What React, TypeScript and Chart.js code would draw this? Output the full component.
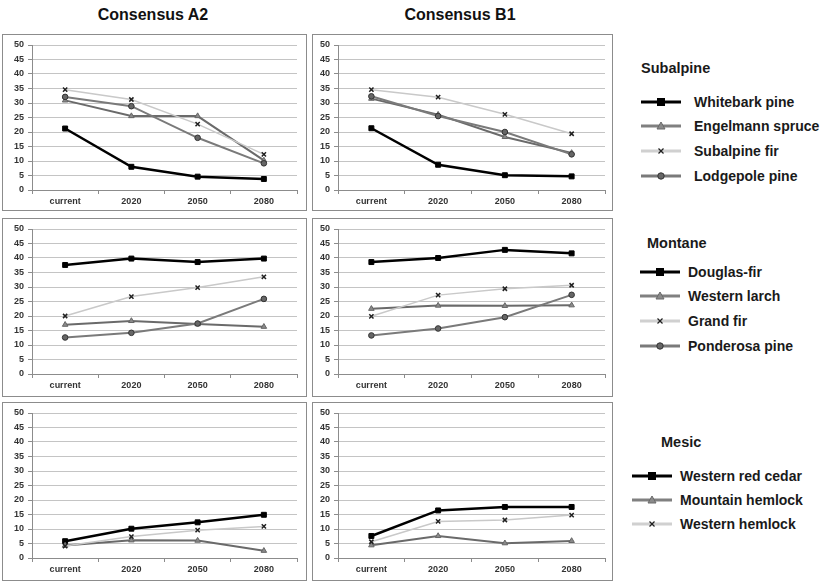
import React, { useEffect, useRef } from 'react';
import { Chart, registerables } from 'chart.js';
Chart.register(...registerables);

const categories = ['current', '2020', '2050', '2080'];
const yMin = 0;
const yMax = 50;
const yStep = 5;

const subalpineSpecies = ['Whitebark pine', 'Engelmann spruce', 'Subalpine fir', 'Lodgepole pine'];
const montaneSpecies = ['Douglas-fir', 'Western larch', 'Grand fir', 'Ponderosa pine'];
const mesicSpecies = ['Western red cedar', 'Mountain hemlock', 'Western hemlock'];

const whitebarkA2 = [21.2, 8.0, 4.6, 3.8];
const engelmannA2 = [30.9, 25.5, 25.5, 10.2];
const subalpineFirA2 = [34.6, 31.2, 22.7, 12.3];
const lodgepoleA2 = [32.1, 28.9, 18.0, 9.2];
const whitebarkB1 = [21.3, 8.7, 5.1, 4.7];
const engelmannB1 = [31.5, 26.0, 18.3, 12.8];
const subalpineFirB1 = [34.6, 32.0, 26.1, 19.4];
const lodgepoleB1 = [32.3, 25.5, 20.0, 12.3];

const douglasFirA2 = [37.6, 39.8, 38.6, 39.8];
const westernLarchA2 = [17.0, 18.3, 17.2, 16.3];
const grandFirA2 = [20.0, 26.7, 29.8, 33.5];
const ponderosaA2 = [12.6, 14.2, 17.4, 25.9];
const douglasFirB1 = [38.6, 40.0, 42.8, 41.6];
const westernLarchB1 = [22.5, 23.6, 23.5, 23.7];
const grandFirB1 = [19.9, 27.2, 29.4, 30.6];
const ponderosaB1 = [13.3, 15.7, 19.6, 27.3];

const redCedarA2 = [5.8, 10.1, 12.3, 14.9];
const mtnHemlockA2 = [4.3, 6.1, 6.0, 2.5];
const wHemlockA2 = [4.1, 7.4, 9.6, 10.9];
const redCedarB1 = [7.6, 16.4, 17.6, 17.6];
const mtnHemlockB1 = [4.4, 7.6, 5.1, 5.9];
const wHemlockB1 = [5.6, 12.6, 13.1, 14.8];

type Style = {
  line: string;
  width: number;
  point: any;
  radius: number;
  pFill: string;
  pBorder: string;
  pBorderWidth: number;
};

const styles: Style[] = [
  { line: '#000000', width: 2.5, point: 'rect', radius: 3.5, pFill: '#000000', pBorder: '#000000', pBorderWidth: 1 },
  { line: '#6a6a6a', width: 2, point: 'triangle', radius: 3.2, pFill: '#8a8a8a', pBorder: '#666666', pBorderWidth: 1 },
  { line: '#c9c9c9', width: 1.5, point: 'crossRot', radius: 3, pFill: '#222222', pBorder: '#222222', pBorderWidth: 1.5 },
  { line: '#7a7a7a', width: 2, point: 'circle', radius: 2.8, pFill: '#666666', pBorder: '#333333', pBorderWidth: 1 },
];

const tickFont = { family: '"Liberation Sans", Arial, sans-serif', size: 9, weight: 'bold' as const };

type PanelProps = {
  left: number;
  top: number;
  width: number;
  height: number;
  yWidth: number;
  padRight: number;
  names: string[];
  series: number[][];
};

function Panel({ left, top, width, height, yWidth, padRight, names, series }: PanelProps) {
  const ref = useRef<HTMLCanvasElement>(null);
  const innerW = width - 2;
  const innerH = height - 2;
  const padTop = 10;
  const plotH = 145;
  useEffect(() => {
    if (!ref.current) return;
    const chart = new Chart(ref.current, {
      type: 'line',
      data: {
        labels: categories,
        datasets: series.map((d, i) => {
          const s = styles[i];
          return {
            label: names[i],
            data: d,
            borderColor: s.line,
            borderWidth: s.width,
            backgroundColor: s.pFill,
            pointStyle: s.point,
            pointRadius: s.radius,
            pointBackgroundColor: s.pFill,
            pointBorderColor: s.pBorder,
            pointBorderWidth: s.pBorderWidth,
            tension: 0,
            fill: false,
            order: series.length - i,
          };
        }),
      },
      options: {
        responsive: false,
        animation: false,
        layout: { padding: { top: padTop, right: padRight, left: 0, bottom: 0 } },
        plugins: { legend: { display: false }, tooltip: { enabled: false } },
        scales: {
          x: {
            type: 'category',
            offset: true,
            grid: {
              display: true,
              offset: true,
              drawOnChartArea: false,
              drawTicks: true,
              tickLength: 4,
              color: '#8c8c8c',
            },
            border: { display: true, color: '#8c8c8c' },
            ticks: { font: tickFont, color: '#333333', padding: 2, maxRotation: 0, autoSkip: false },
            afterFit: (s: any) => {
              s.height = innerH - padTop - plotH;
            },
          },
          y: {
            min: yMin,
            max: yMax,
            ticks: { stepSize: yStep, font: tickFont, color: '#333333', padding: 4 },
            grid: { color: '#c4c4c4', tickColor: '#8c8c8c', tickLength: 4, drawTicks: true },
            border: { display: true, color: '#8c8c8c' },
            afterFit: (s: any) => {
              s.width = yWidth;
            },
          },
        },
      },
    });
    return () => chart.destroy();
  }, []);
  return (
    <div
      style={{
        position: 'absolute',
        left,
        top,
        width,
        height,
        border: '1px solid #8c8c8c',
        boxSizing: 'border-box',
        background: '#ffffff',
      }}
    >
      <canvas ref={ref} width={innerW} height={innerH} style={{ display: 'block' }} />
    </div>
  );
}

function LegendMark({ idx }: { idx: number }) {
  const cx = 20;
  const cy = 5;
  let marker: any = null;
  if (idx === 0) marker = <rect x={cx - 4} y={cy - 4} width={8} height={8} fill="#000" />;
  if (idx === 1) marker = <polygon points={`${cx},${cy - 4} ${cx + 4},${cy + 3} ${cx - 4},${cy + 3}`} fill="#8a8a8a" stroke="#6a6a6a" />;
  if (idx === 2)
    marker = (
      <g stroke="#222" strokeWidth={1.3}>
        <line x1={cx - 2.5} y1={cy - 2.5} x2={cx + 2.5} y2={cy + 2.5} />
        <line x1={cx - 2.5} y1={cy + 2.5} x2={cx + 2.5} y2={cy - 2.5} />
      </g>
    );
  if (idx === 3) marker = <circle cx={cx} cy={cy} r={3.2} fill="#666" stroke="#333" strokeWidth={1} />;
  const lineColor = idx === 0 ? '#000' : idx === 1 ? '#808080' : idx === 2 ? '#d0d0d0' : '#7a7a7a';
  return (
    <svg width={40} height={10} style={{ display: 'block' }}>
      <line x1={0} y1={cy} x2={40} y2={cy} stroke={lineColor} strokeWidth={3} />
      {marker}
    </svg>
  );
}

const legendFont = '"Liberation Sans", Arial, sans-serif';

function LegendGroup({ title, titleX, titleY, lineX, textX, ys, names }: { title: string; titleX: number; titleY: number; lineX: number; textX: number; ys: number[]; names: string[] }) {
  return (
    <>
      <div style={{ position: 'absolute', left: titleX, top: titleY - 10, lineHeight: '20px', fontSize: 14.5, fontWeight: 'bold', fontFamily: legendFont, color: '#1a1a1a', whiteSpace: 'nowrap' }}>{title}</div>
      {names.map((n, i) => (
        <React.Fragment key={n}>
          <div style={{ position: 'absolute', left: lineX, top: ys[i] - 5 }}>
            <LegendMark idx={i} />
          </div>
          <div style={{ position: 'absolute', left: textX, top: ys[i] - 10, lineHeight: '20px', fontSize: 14, fontWeight: 'bold', fontFamily: legendFont, color: '#1a1a1a', whiteSpace: 'nowrap' }}>{n}</div>
        </React.Fragment>
      ))}
    </>
  );
}

export default function App() {
  const col1 = { left: 2, width: 305, yWidth: 29, padRight: 9 };
  const col2 = { left: 312, width: 301, yWidth: 25, padRight: 7 };
  const rows = [
    { top: 34, height: 177 },
    { top: 218, height: 179 },
    { top: 402, height: 179 },
  ];
  const titleStyle: any = { position: 'absolute', top: 5, width: 200, textAlign: 'center', lineHeight: '20px', fontSize: 16, fontWeight: 'bold', fontFamily: legendFont, color: '#111' };
  return (
    <div style={{ position: 'fixed', left: 0, top: 0, width: 829, height: 582, background: '#ffffff', overflow: 'hidden' }}>
      <div style={{ ...titleStyle, left: 53 }}>Consensus A2</div>
      <div style={{ ...titleStyle, left: 360 }}>Consensus B1</div>

      <Panel {...col1} {...rows[0]} names={subalpineSpecies} series={[whitebarkA2, engelmannA2, subalpineFirA2, lodgepoleA2]} />
      <Panel {...col2} {...rows[0]} names={subalpineSpecies} series={[whitebarkB1, engelmannB1, subalpineFirB1, lodgepoleB1]} />
      <Panel {...col1} {...rows[1]} names={montaneSpecies} series={[douglasFirA2, westernLarchA2, grandFirA2, ponderosaA2]} />
      <Panel {...col2} {...rows[1]} names={montaneSpecies} series={[douglasFirB1, westernLarchB1, grandFirB1, ponderosaB1]} />
      <Panel {...col1} {...rows[2]} names={mesicSpecies} series={[redCedarA2, mtnHemlockA2, wHemlockA2]} />
      <Panel {...col2} {...rows[2]} names={mesicSpecies} series={[redCedarB1, mtnHemlockB1, wHemlockB1]} />

      <LegendGroup title="Subalpine" titleX={641} titleY={68} lineX={641} textX={694} ys={[102, 126, 151, 176]} names={subalpineSpecies} />
      <LegendGroup title="Montane" titleX={647} titleY={243} lineX={640} textX={688} ys={[272, 296, 321, 346]} names={montaneSpecies} />
      <LegendGroup title="Mesic" titleX={661} titleY={442} lineX={632} textX={680} ys={[476, 500, 524]} names={mesicSpecies} />
    </div>
  );
}
